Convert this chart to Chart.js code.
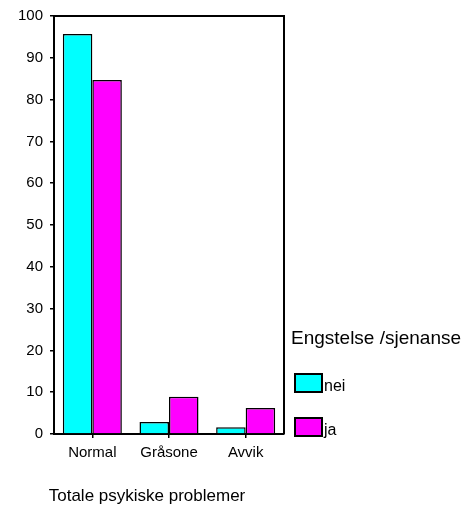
<!DOCTYPE html>
<html>
<head>
<meta charset="utf-8">
<script src="https://cdn.jsdelivr.net/npm/chart.js@4.4.1/dist/chart.umd.min.js"></script>
<style>
  html, body { margin: 0; padding: 0; background: #fff; }
  canvas { display: block; }
</style>
</head>
<body>
<canvas id="chart" width="464" height="508"></canvas>
<script>
// Totale psykiske problemer, split by Engstelse /sjenanse (percent)
const categories = ['Normal', 'Gråsone', 'Avvik'];
const neiValues = [95.7, 2.9, 1.6];
const jaValues = [84.7, 8.9, 6.2];
const seriesLabels = ['nei', 'ja'];
const yMin = 0;
const yMax = 100;
const yStep = 10;
const legendTitle = 'Engstelse /sjenanse';
const axisTitle = 'Totale psykiske problemer';

const FONT = '"Liberation Sans", Arial, sans-serif';

// frame (top + right edges), axis title and legend; Chart.js has no
// spot-on placement for these so they are painted after the chart.
const frameAndLegend = {
  id: 'frameAndLegend',
  afterDraw(chart) {
    const { ctx, chartArea: a } = chart;
    ctx.save();
    ctx.strokeStyle = '#000';
    ctx.lineWidth = 2;
    ctx.beginPath();
    ctx.moveTo(a.left, a.top);
    ctx.lineTo(a.right, a.top);
    ctx.lineTo(a.right, a.bottom);
    ctx.stroke();

    ctx.fillStyle = '#000';
    ctx.textAlign = 'center';
    ctx.textBaseline = 'middle';
    ctx.font = '17px ' + FONT;
    ctx.fillText(axisTitle, 147, 496);

    ctx.textAlign = 'left';
    ctx.font = '19px ' + FONT;
    ctx.fillText(legendTitle, 291, 339);

    ctx.font = '16px ' + FONT;
    ctx.textBaseline = 'alphabetic';
    chart.data.datasets.forEach((ds, i) => {
      const y = 374 + i * 44;
      ctx.fillStyle = ds.backgroundColor;
      ctx.fillRect(295, y, 27, 18);
      ctx.lineWidth = 2;
      ctx.strokeRect(295, y, 27, 18);
      ctx.fillStyle = '#000';
      ctx.fillText(ds.label, 324, y + 17);
    });
    ctx.restore();
  },
};

new Chart(document.getElementById('chart'), {
  type: 'bar',
  data: {
    labels: categories,
    datasets: [
      {
        label: seriesLabels[0],
        data: neiValues,
        backgroundColor: '#00ffff',
        borderColor: '#000',
        borderWidth: 1.5,
      },
      {
        label: seriesLabels[1],
        data: jaValues,
        backgroundColor: '#ff00ff',
        borderColor: '#000',
        borderWidth: 1.5,
      },
    ],
  },
  options: {
    responsive: false,
    animation: false,
    maintainAspectRatio: false,
    layout: { padding: { top: 15, right: 180, left: 0, bottom: 0 } },
    datasets: { bar: { categoryPercentage: 0.77, barPercentage: 1 } },
    plugins: { legend: { display: false }, tooltip: { enabled: false } },
    scales: {
      x: {
        afterFit: (s) => { s.height = 74; },
        grid: { offset: false, drawOnChartArea: false, drawTicks: true, tickLength: 4, color: '#000', lineWidth: 1.5 },
        border: { display: true, color: '#000', width: 2 },
        ticks: { color: '#000', font: { family: FONT, size: 15 }, padding: 6, maxRotation: 0 },
      },
      y: {
        min: yMin,
        max: yMax,
        afterFit: (s) => { s.width = 54; },
        grid: { drawOnChartArea: false, drawTicks: true, tickLength: 4, color: '#000', lineWidth: 1.5 },
        border: { display: true, color: '#000', width: 2 },
        ticks: { stepSize: yStep, color: '#000', font: { family: FONT, size: 15 }, padding: 7 },
      },
    },
  },
  plugins: [frameAndLegend],
});
</script>
</body>
</html>
